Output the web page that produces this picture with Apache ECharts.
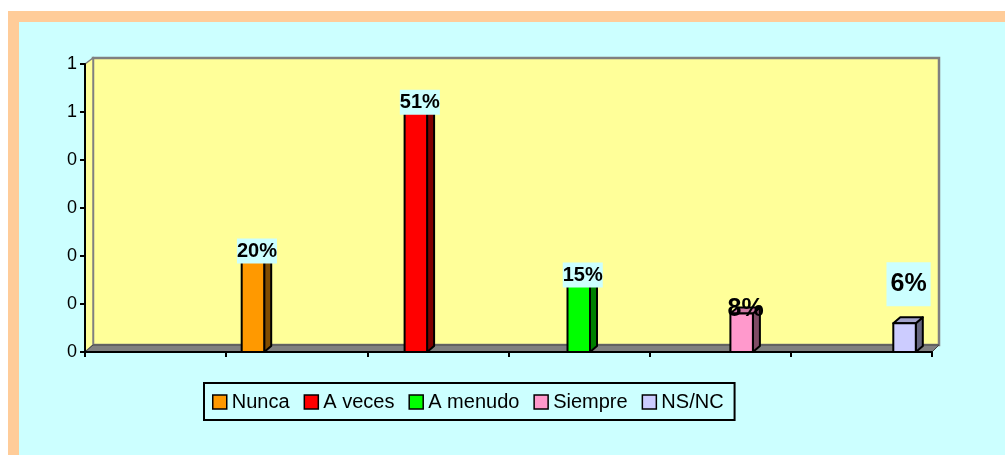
<!DOCTYPE html>
<html><head><meta charset="utf-8">
<script src="https://cdn.jsdelivr.net/npm/echarts@6/dist/echarts.min.js"></script>
<style>
html,body{margin:0;padding:0;background:#fff;overflow:hidden}
#wrap{position:relative;width:1005px;height:455px;overflow:hidden}
#frame{position:absolute;left:8px;top:11px;width:1100px;height:600px;background:#CCFFFF;border-top:11px solid #FFCC99;border-left:11px solid #FFCC99}
#chart{position:absolute;left:0;top:0;width:1005px;height:455px}
</style></head><body>
<div id="wrap"><div id="frame"></div><div id="chart"></div></div>
<script>
// ---- data ----
const categories = ['Nunca', 'A veces', 'A menudo', 'Siempre', 'NS/NC'];
const values = [0.20, 0.51, 0.15, 0.08, 0.06];
const labelTexts = ['20%', '51%', '15%', '8%', '6%'];
const yMin = 0, yMax = 0.6, yInterval = 0.1;
const frameTicks = ['', '', '', '', '', ''];

// ---- styles ----
const colors = ['#FF9900', '#FF0000', '#00FF00', '#FF99CC', '#CCCCFF'];
const sideColors = ['#804C00', '#800000', '#008000', '#804C66', '#666680'];
const topColors = ['#CC7A00', '#CC0000', '#00CC00', '#CC7AA3', '#A3A3CC'];
const labelFontSize = [20, 20, 20, 25, 25];
const labelDy = [-5, -5, -5, -4, -39];
const labelBg = [true, true, true, false, true];
const labelPad = [[3, 0, 2, 0], [3, 0, 2, 0], [3, 0, 2, 0], [0, 0, 0, 0], [10, 4, 9, 4]];
const FONT = '"Liberation Sans", Arial, sans-serif';

const chart = echarts.init(document.getElementById('chart'), null, {renderer: 'canvas'});

function makeRender(i) {
  return function (params, api) {
    const x = api.value(0), v = api.value(1);
    const top = api.coord([x, v]);
    const base = api.coord([x, 0]);
    const w = 22.5, dx = 7, dy = 6;
    const xl = top[0] - w / 2, xr = top[0] + w / 2, yt = top[1], yb = base[1];
    const stroke = {stroke: '#000', lineWidth: 2, lineJoin: 'round'};
    const children = [
      {type: 'polygon', shape: {points: [[xr, yb], [xr + dx, yb - dy], [xr + dx, yt - dy], [xr, yt]]},
        style: Object.assign({fill: sideColors[i]}, stroke)},
      {type: 'polygon', shape: {points: [[xl, yt], [xl + dx, yt - dy], [xr + dx, yt - dy], [xr, yt]]},
        style: Object.assign({fill: topColors[i]}, stroke)},
      {type: 'rect', shape: {x: xl, y: yt, width: w, height: yb - yt},
        style: Object.assign({fill: colors[i]}, stroke)}
    ];
    const ts = {
      text: labelTexts[i], fill: '#000',
      font: 'bold ' + labelFontSize[i] + 'px ' + FONT,
      align: 'center', verticalAlign: 'middle',
      padding: labelPad[i]
    };
    if (labelBg[i]) ts.backgroundColor = '#CCFFFF';
    children.push({type: 'text', x: top[0] + 4, y: yt + labelDy[i], z2: 10, style: ts});
    return {type: 'group', children: children};
  };
}

const series = categories.map(function (name, i) {
  return {
    type: 'custom', name: name, xAxisIndex: 1, yAxisIndex: 1,
    itemStyle: {color: colors[i], borderColor: '#000', borderWidth: 1.5},
    encode: {x: 0, y: 1},
    renderItem: makeRender(i),
    data: [[i, values[i]]],
    z: 5
  };
});

const option = {
  backgroundColor: 'transparent',
  animation: false,
  textStyle: {fontFamily: FONT},
  graphic: [
    {type: 'rect', z: -20, shape: {x: 93, y: 58, width: 846, height: 287},
      style: {fill: '#FFFF99', stroke: '#808080', lineWidth: 2.5}},
    {type: 'polygon', z: -19, shape: {points: [[85, 64], [93, 58], [93, 345], [85, 352]]},
      style: {fill: '#FFFF99', stroke: '#808080', lineWidth: 1.5}},
    {type: 'polygon', z: -19, shape: {points: [[85, 352], [93, 345], [939, 345], [932, 352]]},
      style: {fill: '#808080', stroke: '#444', lineWidth: 1}}
  ],
  grid: [
    {left: 85, right: 73, top: 64, bottom: 103},
    {left: 171.5, right: 19, top: 64, bottom: 103}
  ],
  xAxis: [
    {gridIndex: 0, type: 'category', data: frameTicks, boundaryGap: true,
      axisLine: {lineStyle: {color: '#000', width: 2}},
      axisTick: {show: true, length: 5, lineStyle: {color: '#000', width: 2}},
      axisLabel: {show: false}, splitLine: {show: false}},
    {gridIndex: 1, type: 'category', data: categories, show: false}
  ],
  yAxis: [
    {gridIndex: 0, type: 'value', min: yMin, max: yMax, interval: yInterval,
      axisLine: {show: true, lineStyle: {color: '#000', width: 2}},
      axisTick: {show: true, length: 5, lineStyle: {color: '#000', width: 2}},
      axisLabel: {color: '#000', fontSize: 18, margin: 8, fontFamily: FONT,
        formatter: function (v) { return String(Math.round(v)); }},
      splitLine: {show: false}},
    {gridIndex: 1, type: 'value', min: yMin, max: yMax, interval: yInterval, show: false}
  ],
  legend: {
    left: 204, top: 383, orient: 'horizontal',
    backgroundColor: '#CCFFFF', borderColor: '#000', borderWidth: 2,
    padding: [8, 11, 7, 8], itemGap: 14, itemWidth: 14, itemHeight: 14,
    icon: 'rect',
    textStyle: {fontSize: 20, color: '#000', fontFamily: FONT, lineHeight: 22},
    data: categories.map(function (n) {
      return {name: n, itemStyle: {borderColor: '#000', borderWidth: 1.5}};
    })
  },
  series: series
};
chart.setOption(option);
</script>
</body></html>
